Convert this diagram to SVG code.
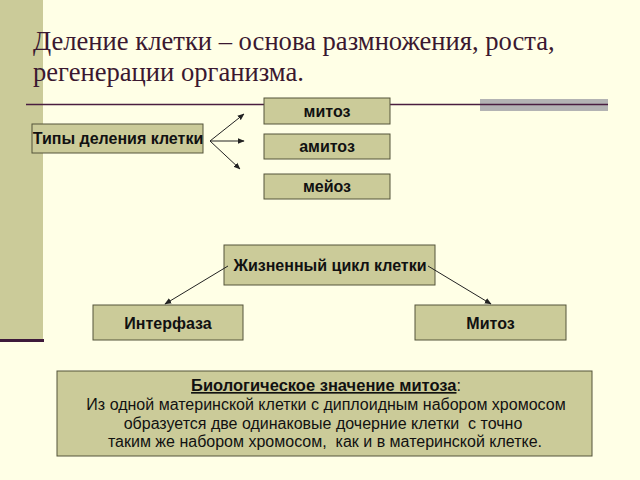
<svg xmlns="http://www.w3.org/2000/svg" width="640" height="480" viewBox="0 0 640 480">
<defs>
<style>
.box{fill:#cbcb99;stroke:#55553a;stroke-width:1}
.t{font-family:"Liberation Sans",Arial,sans-serif;font-weight:bold;font-size:16px;fill:#111;text-anchor:middle}
.b{font-family:"Liberation Sans",Arial,sans-serif;font-size:16px;fill:#111;text-anchor:middle}
.c{stroke:#222;stroke-width:1;fill:none;marker-end:url(#ah)}
</style>
<marker id="ah" viewBox="0 0 10 10" refX="9" refY="5" markerWidth="7" markerHeight="7" orient="auto" markerUnits="userSpaceOnUse">
<path d="M0,1 L10,5 L0,9 z" fill="#222"/>
</marker>
</defs>
<rect x="0" y="0" width="640" height="480" fill="#ffffe6"/>
<rect x="0" y="0" width="43" height="340" fill="#cbcb99"/>
<rect x="0" y="339" width="44" height="3" fill="#3e1a3a"/>
<rect x="480" y="99" width="128" height="12" fill="#b3b3b3"/>
<line x1="26" y1="104.5" x2="608" y2="104.5" stroke="#4a1e40" stroke-width="1.5"/>
<text font-family="'Liberation Serif','Times New Roman',serif" font-size="26.6" fill="#3a1830">
<tspan x="33" y="50">Деление клетки – основа размножения, роста,</tspan>
<tspan x="33" y="81">регенерации организма.</tspan>
</text>
<g id="types"><rect class="box" x="32" y="124" width="171" height="29"/><text class="t" x="118" y="144" font-size="15.5">Типы деления клетки</text></g>
<g id="mitoz1"><rect class="box" x="264" y="98" width="126" height="26"/><text class="t" x="327" y="117">митоз</text></g>
<g id="amitoz"><rect class="box" x="264" y="134" width="126" height="25"/><text class="t" x="327" y="152">амитоз</text></g>
<g id="meioz"><rect class="box" x="264" y="174" width="126" height="25"/><text class="t" x="327" y="192">мейоз</text></g>
<g id="cycle"><rect class="box" x="224" y="245" width="211" height="40"/><text class="t" x="330" y="271">Жизненный цикл клетки</text></g>
<g id="interphase"><rect class="box" x="93" y="305" width="150" height="35"/><text class="t" x="168" y="329">Интерфаза</text></g>
<g id="mitoz2"><rect class="box" x="415" y="305" width="151" height="35"/><text class="t" x="490.5" y="329">Митоз</text></g>
<g id="meaning"><rect class="box" x="57" y="371" width="535" height="85"/>
<text class="b" x="326" y="391"><tspan font-weight="bold" font-size="16.5" text-decoration="underline">Биологическое значение митоза</tspan>:</text>
<text class="b" x="326" y="410">Из одной материнской клетки с диплоидным набором хромосом</text>
<text class="b" x="323" y="429" xml:space="preserve">образуется две одинаковые дочерние клетки  с точно</text>
<text class="b" x="325" y="447" xml:space="preserve">таким же набором хромосом,  как и в материнской клетке.</text>
</g>
<g id="connectors">
<line class="c" x1="210" y1="141" x2="244" y2="114"/>
<line class="c" x1="210" y1="141" x2="244" y2="141"/>
<line class="c" x1="210" y1="141" x2="240" y2="169"/>
<line class="c" x1="228" y1="266" x2="165" y2="304"/>
<line class="c" x1="428" y1="266" x2="491" y2="304"/>
</g>
</svg>
